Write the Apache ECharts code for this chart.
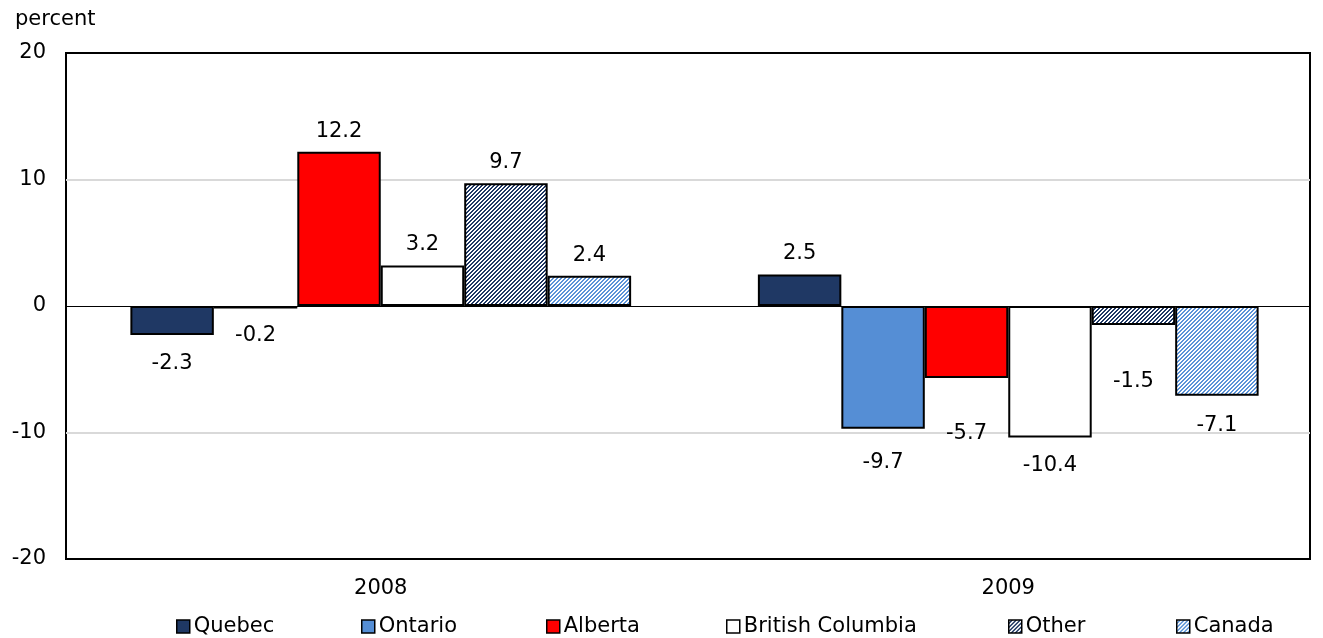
<!DOCTYPE html>
<html>
<head>
<meta charset="utf-8">
<script src="https://cdn.jsdelivr.net/npm/echarts@6/dist/echarts.min.js"></script>
<style>
html,body{margin:0;padding:0;background:#fff;}
#chart{width:1323px;height:638px;}
</style>
</head>
<body>
<div id="chart"></div>
<script>
var categories = ['2008', '2009'];
var seriesNames = ['Quebec', 'Ontario', 'Alberta', 'British Columbia', 'Other', 'Canada'];
var quebec = [-2.3, 2.5];
var ontario = [-0.2, -9.7];
var alberta = [12.2, -5.7];
var britishColumbia = [3.2, -10.4];
var other = [9.7, -1.5];
var canada = [2.4, -7.1];
var yTicks = [-20, -10, 0, 10, 20];

var values = [quebec, ontario, alberta, britishColumbia, other, canada];
var FONT = '"DejaVu Sans", Verdana, sans-serif';
var FS = 21;

// layout/style helpers (not data)
var labelGapBelow = [[18, 0], [17, 23], [0, 45], [0, 17], [0, 46], [0, 19]];
var legendLefts = [176, 361, 546, 726, 1008, 1176];

function makePattern(base, stripe) {
  var size = 4;
  var c = document.createElement('canvas');
  c.width = size; c.height = size;
  var ctx = c.getContext('2d');
  for (var y = 0; y < size; y++) {
    for (var x = 0; x < size; x++) {
      var ph = (x + y) % size;
      ctx.fillStyle = ph < 2 ? stripe : base;
      ctx.fillRect(x, y, 1, 1);
    }
  }
  return { image: c, repeat: 'repeat' };
}

var fills = [
  '#1f3864',
  '#558ed5',
  '#ff0000',
  '#ffffff',
  makePattern('#1f3864', '#ffffff'),
  makePattern('#5b93d8', '#ffffff')
];

var series = seriesNames.map(function (name, i) {
  return {
    name: name,
    type: 'bar',
    xAxisIndex: 1,
    yAxisIndex: 1,
    barGap: '0%',
    barCategoryGap: '20.2%',
    itemStyle: { color: fills[i], borderColor: '#000', borderWidth: 2 },
    data: values[i].map(function (v, j) {
      return {
        value: v,
        label: v >= 0 ? { position: 'top', distance: 10 }
                      : { position: 'bottom', distance: labelGapBelow[i][j] }
      };
    }),
    label: {
      show: true,
      fontSize: FS,
      fontFamily: FONT,
      color: '#000',
      formatter: function (p) { return p.value.toFixed(1); }
    }
  };
});

// zero line drawn in the bordered grid
series.unshift({
  type: 'line',
  xAxisIndex: 0,
  yAxisIndex: 0,
  data: [],
  silent: true,
  markLine: {
    silent: true,
    symbol: 'none',
    label: { show: false },
    lineStyle: { color: '#000', width: 1, type: 'solid' },
    data: [{ yAxis: 0 }]
  }
});

var legends = seriesNames.map(function (name, i) {
  return {
    data: [name],
    left: legendLefts[i],
    top: 616,
    padding: 0,
    itemWidth: 13,
    itemHeight: 13,
    itemGap: 0,
    icon: 'rect',
    itemStyle: { borderColor: '#000', borderWidth: 1.5 },
    textStyle: { fontSize: FS, fontFamily: FONT, color: '#000', padding: [0, 0, 0, -1] }
  };
});

var chart = echarts.init(document.getElementById('chart'));
chart.setOption({
  animation: false,
  backgroundColor: '#fff',
  title: {
    text: 'percent',
    left: 10,
    top: 4,
    textStyle: { fontSize: FS, fontWeight: 'normal', fontFamily: FONT, color: '#000' }
  },
  grid: [
    { left: 66, right: 13, top: 53, bottom: 79,
      show: true, borderColor: '#000', borderWidth: 2, backgroundColor: 'transparent' },
    { left: 67, right: 1, top: 53, bottom: 79 }
  ],
  legend: legends,
  xAxis: [
    { type: 'category', gridIndex: 0, data: categories, show: false },
    {
      type: 'category',
      gridIndex: 1,
      data: categories,
      axisLine: { show: false },
      axisTick: { show: false },
      axisLabel: { fontSize: FS, fontFamily: FONT, color: '#000', margin: 19 }
    }
  ],
  yAxis: [
    {
      type: 'value',
      gridIndex: 0,
      min: yTicks[0],
      max: yTicks[yTicks.length - 1],
      interval: 10,
      axisLine: { show: false },
      axisTick: { show: false },
      axisLabel: { fontSize: FS, fontFamily: FONT, color: '#000', margin: 20 },
      splitLine: { lineStyle: { color: ['rgba(0,0,0,0)', '#d9d9d9', 'rgba(0,0,0,0)', '#d9d9d9', 'rgba(0,0,0,0)'], width: 2 } }
    },
    {
      type: 'value',
      gridIndex: 1,
      min: yTicks[0],
      max: yTicks[yTicks.length - 1],
      interval: 10,
      show: false,
      splitLine: { show: false }
    }
  ],
  series: series
});
</script>
</body>
</html>
